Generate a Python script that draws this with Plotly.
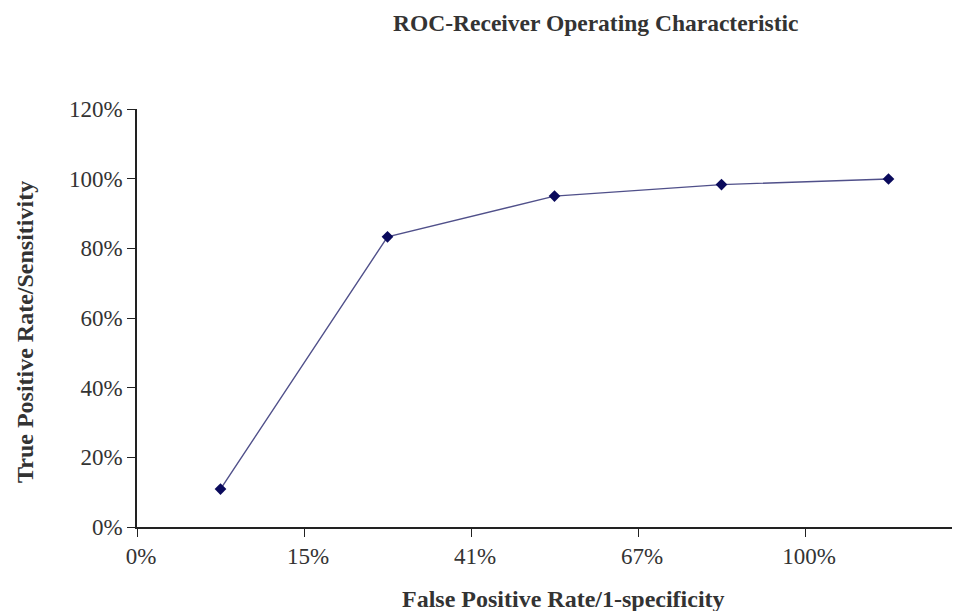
import numpy as np
import plotly.graph_objects as go

# Data
tick_labels = ["0%", "15%", "41%", "67%", "100%"]
tpr = [0.109, 0.833, 0.950, 0.983, 0.999]

n = len(tpr)
x_pos = np.arange(n) + 0.5  # points sit at category centres
tick_pos = list(range(len(tick_labels)))

FONT = "Liberation Serif"
TXT = "#333333"

# The page has an 8px body margin, so the figure is 8px smaller than the window
W, H = 952, 603
OFF = 8
L, T = 137 - OFF, 109 - OFF
B = H - (527 - OFF)
PW = W - L
PH = H - T - B

fig = go.Figure()
fig.add_trace(go.Scatter(
    x=x_pos, y=tpr, mode="lines+markers",
    line=dict(color="#50508a", width=1.4),
    marker=dict(symbol="diamond", size=9, color="#0a0a5c"),
    showlegend=False, hoverinfo="skip",
))

fig.update_layout(
    width=W, height=H,
    margin=dict(l=L, r=0, t=T, b=B),
    paper_bgcolor="white", plot_bgcolor="white",
    font=dict(family=FONT, color=TXT, size=23),
    xaxis=dict(
        range=[0, PW / 167], tickvals=tick_pos, ticktext=tick_labels,
        showgrid=False, zeroline=False,
        showline=True, linecolor="#222222", linewidth=1.5,
        ticks="outside", ticklen=8, tickcolor="#222222", tickwidth=1.3,
        tickfont=dict(family=FONT, size=23, color=TXT),
        ticklabelshift=4,
        fixedrange=True,
    ),
    yaxis=dict(
        range=[0, 1.2], tickvals=[0, 0.2, 0.4, 0.6, 0.8, 1.0, 1.2],
        tickformat=".0%",
        showgrid=False, zeroline=False,
        showline=True, linecolor="#222222", linewidth=1.5,
        ticks="outside", ticklen=8, tickcolor="#222222", tickwidth=1.3,
        tickfont=dict(family=FONT, size=23, color=TXT),
        fixedrange=True,
    ),
    annotations=[
        dict(text="<b>ROC-Receiver Operating Characteristic</b>", xref="paper", yref="paper",
             x=(595 - 137) / PW, y=1 + (109 - 23) / PH, xanchor="center", yanchor="middle",
             showarrow=False, font=dict(family=FONT, size=23.5, color=TXT)),
        dict(text="<b>False Positive Rate/1-specificity</b>", xref="paper", yref="paper",
             x=(563 - 137) / PW, y=-(599 - 527) / PH, xanchor="center", yanchor="middle",
             showarrow=False, font=dict(family=FONT, size=24, color=TXT)),
        dict(text="<b>True Positive Rate/Sensitivity</b>", xref="paper", yref="paper",
             x=-(137 - 25) / PW, y=(527 - 332) / PH, xanchor="center", yanchor="middle",
             textangle=-90, showarrow=False, font=dict(family=FONT, size=24, color=TXT)),
    ],
)

fig.write_html("out.html")
